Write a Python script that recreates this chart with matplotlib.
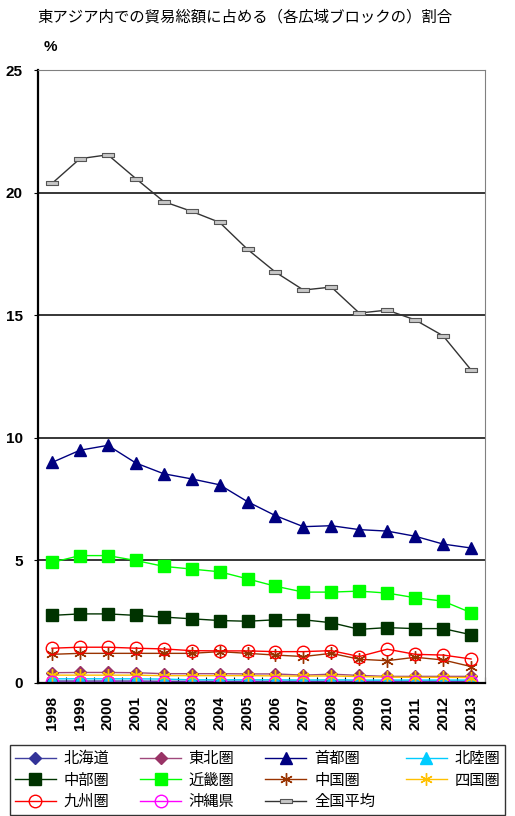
import matplotlib
matplotlib.use('Agg')
import matplotlib.pyplot as plt
import numpy as np

plt.rcParams['font.family'] = ['Noto Sans CJK JP', 'DejaVu Sans']

# データ
years = ['1998', '1999', '2000', '2001', '2002', '2003', '2004', '2005',
         '2006', '2007', '2008', '2009', '2010', '2011', '2012', '2013']

hokkaido = [0.06, 0.06, 0.06, 0.06, 0.05, 0.05, 0.05, 0.05, 0.05, 0.05, 0.05, 0.05, 0.05, 0.05, 0.05, 0.05]
tohoku = [0.40, 0.41, 0.41, 0.40, 0.36, 0.36, 0.36, 0.35, 0.35, 0.30, 0.34, 0.29, 0.25, 0.25, 0.25, 0.25]
shuto = [8.98, 9.48, 9.68, 8.96, 8.52, 8.31, 8.07, 7.38, 6.81, 6.36, 6.40, 6.24, 6.18, 5.97, 5.65, 5.49]
hokuriku = [0.15, 0.15, 0.15, 0.15, 0.14, 0.11, 0.11, 0.11, 0.11, 0.10, 0.11, 0.10, 0.10, 0.10, 0.10, 0.10]
chubu = [2.74, 2.80, 2.80, 2.74, 2.67, 2.60, 2.53, 2.50, 2.56, 2.56, 2.44, 2.17, 2.24, 2.20, 2.20, 1.95]
kinki = [4.90, 5.18, 5.18, 4.98, 4.74, 4.63, 4.52, 4.23, 3.93, 3.69, 3.69, 3.73, 3.65, 3.46, 3.32, 2.85]
chugoku = [1.15, 1.19, 1.19, 1.19, 1.19, 1.19, 1.26, 1.19, 1.12, 1.06, 1.19, 0.95, 0.89, 1.03, 0.92, 0.65]
shikoku = [0.30, 0.30, 0.30, 0.30, 0.28, 0.28, 0.28, 0.28, 0.27, 0.26, 0.27, 0.24, 0.22, 0.21, 0.21, 0.20]
kyushu = [1.40, 1.44, 1.44, 1.40, 1.37, 1.30, 1.29, 1.29, 1.26, 1.26, 1.30, 1.06, 1.36, 1.15, 1.12, 0.96]
okinawa = [0.02, 0.02, 0.02, 0.02, 0.02, 0.02, 0.02, 0.02, 0.02, 0.02, 0.02, 0.02, 0.02, 0.02, 0.02, 0.02]
zenkoku = [20.37, 21.38, 21.54, 20.57, 19.63, 19.23, 18.78, 17.68, 16.75, 16.02, 16.14, 15.08, 15.20, 14.80, 14.15, 12.76]

x = np.arange(len(years))

fig = plt.figure(figsize=(5.15, 8.16), dpi=100)
ax = fig.add_axes([0.0738, 0.1636, 0.868, 0.7506])

bar_marker = [(-1, -0.3), (1, -0.3), (1, 0.3), (-1, 0.3), (-1, -0.3)]

lines = []
lines += ax.plot(x, hokkaido, color='#4040A0', marker='D', ms=6, mfc='#333399', mec='#333399', lw=1.0, label='北海道')
lines += ax.plot(x, tohoku, color='#A0487C', marker='D', ms=6, mfc='#993366', mec='#993366', lw=1.0, label='東北圏')
lines += ax.plot(x, shuto, color='#000080', marker='^', ms=9, lw=1.0, label='首都圏')
lines += ax.plot(x, hokuriku, color='#00CCFF', marker='^', ms=8, lw=1.0, label='北陸圏')
lines += ax.plot(x, chubu, color='#003300', marker='s', ms=8, lw=1.0, label='中部圏')
lines += ax.plot(x, kinki, color='#00FF00', marker='s', ms=8, lw=1.0, label='近畿圏')
lines += ax.plot(x, chugoku, color='#993300', marker=(6, 2, 0), ms=9, mew=1.0, lw=1.0, label='中国圏')
lines += ax.plot(x, shikoku, color='#FFC000', marker=(6, 2, 0), ms=9, mew=1.0, lw=1.0, label='四国圏')
lines += ax.plot(x, kyushu, color='#FF0000', marker='o', ms=9, mfc='none', mew=1.0, lw=1.0, label='九州圏')
lines += ax.plot(x, okinawa, color='#FF00FF', marker='o', ms=9, mfc='none', mew=1.0, lw=1.0, label='沖縄県')
lines += ax.plot(x, zenkoku, color='#333333', marker=bar_marker, ms=8, mfc='#C8C8C8', mec='#555555', mew=0.8, lw=1.0, label='全国平均')

ax.set_xlim(-0.5, 15.45)
ax.set_ylim(0, 25)
ax.set_yticks([0, 5, 10, 15, 20, 25])
for v in [5, 10, 15, 20]:
    ax.axhline(v, color='black', lw=1.1, zorder=0)

ax.set_xticks(x)
ax.set_xticklabels(years, rotation=90, fontsize=11, family='Liberation Sans', fontweight='bold')
ax.set_xticks(np.arange(-0.5, 16, 1), minor=True)
ax.tick_params(axis='x', which='major', length=0, pad=10)
ax.tick_params(axis='x', which='minor', length=4, direction='in', width=0.8)
ax.tick_params(axis='y', length=3, direction='out', pad=8)
for lab in ax.get_yticklabels():
    lab.set_family('Liberation Sans')
    lab.set_fontweight('bold')
    lab.set_fontsize(11)

ax.spines['left'].set_linewidth(1.6)
ax.spines['bottom'].set_linewidth(1.6)
ax.spines['top'].set_color('#808080')
ax.spines['right'].set_color('#808080')

fig.text(0.072, 0.979, '東アジア内での貿易総額に占める（各広域ブロックの）割合',
         fontsize=11.1, ha='left', va='center')
fig.text(0.085, 0.942, '%', fontsize=11, fontweight='bold', family='Liberation Sans',
         ha='left', va='center')

order = [0, 4, 8, 1, 5, 9, 2, 6, 10, 3, 7]
leg = fig.legend([lines[i] for i in order], [lines[i].get_label() for i in order],
                 ncol=4, loc='lower center', bbox_to_anchor=(0.5, 0.0015),
                 borderaxespad=0, fontsize=11, frameon=True, fancybox=False,
                 edgecolor='black', handlelength=2.7, columnspacing=2.0,
                 handletextpad=0.5, labelspacing=0.3, borderpad=0.3)
leg.get_frame().set_linewidth(1.0)

fig.savefig('out.png', dpi=100)
